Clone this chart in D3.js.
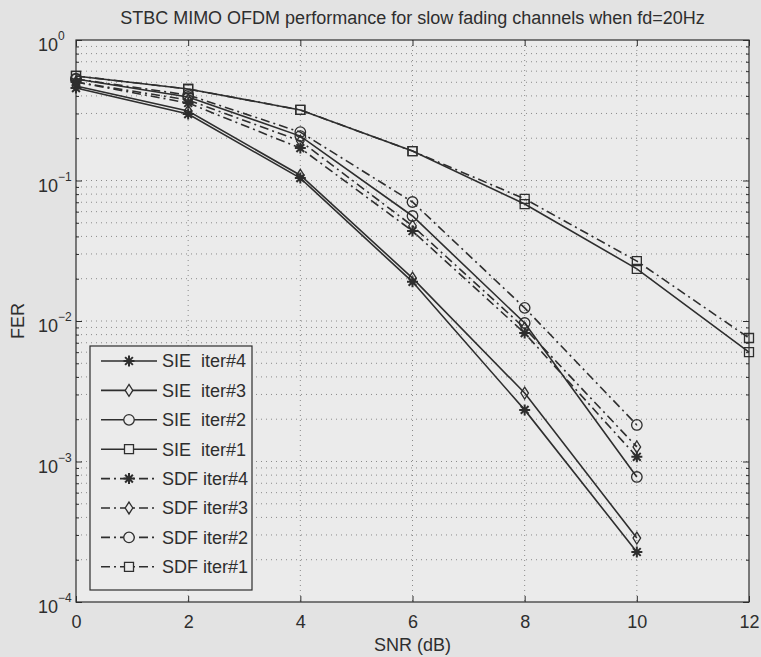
<!DOCTYPE html>
<html>
<head>
<meta charset="utf-8" />
<title>STBC MIMO OFDM FER</title>
<script src="https://d3js.org/d3.v7.min.js"></script>
<style>
  body { margin: 0; background: #e3e3e3; }
  svg { display: block; font-family: "Liberation Sans", Arial, sans-serif; }
</style>
</head>
<body>
<svg width="761" height="657"></svg>
<script>
// SNR points (dB)
const snr = [0, 2, 4, 6, 8, 10];
const snrIter1 = [0, 2, 4, 6, 8, 10, 12];

// FER values
const sieIter4 = [0.455, 0.297, 0.104, 0.0190, 0.00233, 0.000227];
const sieIter3 = [0.471, 0.312, 0.109, 0.0202, 0.00307, 0.000285];
const sieIter2 = [0.528, 0.393, 0.207, 0.0559, 0.00968, 0.000776];
const sieIter1 = [0.555, 0.448, 0.318, 0.162, 0.068, 0.0235, 0.0060];
const sdfIter4 = [0.502, 0.356, 0.170, 0.0437, 0.0082, 0.00108];
const sdfIter3 = [0.502, 0.374, 0.191, 0.0475, 0.0089, 0.00127];
const sdfIter2 = [0.528, 0.406, 0.221, 0.0703, 0.0124, 0.00182];
const sdfIter1 = [0.555, 0.448, 0.318, 0.162, 0.074, 0.0267, 0.00757];

const legendNames = ['SIE  iter#4', 'SIE  iter#3', 'SIE  iter#2', 'SIE  iter#1',
                     'SDF iter#4', 'SDF iter#3', 'SDF iter#2', 'SDF iter#1'];
const xTicks = [0, 2, 4, 6, 8, 10, 12];
const yExponents = [0, -1, -2, -3, -4];

const titleText = 'STBC MIMO OFDM performance for slow fading channels when fd=20Hz';

const svg = d3.select('svg');
const width = +svg.attr('width');
const height = +svg.attr('height');

const ink = '#2e2e2e';
const margin = {top: 40, right: 12, bottom: 55, left: 76};
const innerwidth = width - margin.left - margin.right;
const innerheight = height - margin.top - margin.bottom;

// asterisk marker like matlab '*'
const asterisk = {
  draw(ctx, size) {
    const r = Math.sqrt(size) / 2;
    const d = r * Math.SQRT1_2;
    ctx.moveTo(-r, 0); ctx.lineTo(r, 0);
    ctx.moveTo(0, -r); ctx.lineTo(0, r);
    ctx.moveTo(-d, -d); ctx.lineTo(d, d);
    ctx.moveTo(-d, d); ctx.lineTo(d, -d);
  }
};
const diamond = {
  draw(ctx, size) {
    const r = Math.sqrt(size) / 2;
    ctx.moveTo(0, -r * 1.25); ctx.lineTo(r * 0.8, 0);
    ctx.lineTo(0, r * 1.25); ctx.lineTo(-r * 0.8, 0); ctx.closePath();
  }
};
const circle = {
  draw(ctx, size) {
    const r = Math.sqrt(size) / 2;
    ctx.moveTo(r, 0); ctx.arc(0, 0, r, 0, 2 * Math.PI);
  }
};
const square = {
  draw(ctx, size) {
    const r = Math.sqrt(size) / 2;
    ctx.rect(-r, -r, 2 * r, 2 * r);
  }
};

const series = [
  {name: legendNames[0], x: snr, y: sieIter4, marker: asterisk, size: 121, dash: null},
  {name: legendNames[1], x: snr, y: sieIter3, marker: diamond, size: 90, dash: null},
  {name: legendNames[2], x: snr, y: sieIter2, marker: circle, size: 110, dash: null},
  {name: legendNames[3], x: snrIter1, y: sieIter1, marker: square, size: 81, dash: null},
  {name: legendNames[4], x: snr, y: sdfIter4, marker: asterisk, size: 121, dash: '9,4,2,4'},
  {name: legendNames[5], x: snr, y: sdfIter3, marker: diamond, size: 90, dash: '9,4,2,4'},
  {name: legendNames[6], x: snr, y: sdfIter2, marker: circle, size: 110, dash: '9,4,2,4'},
  {name: legendNames[7], x: snrIter1, y: sdfIter1, marker: square, size: 81, dash: '9,4,2,4'}
];

const xscale = d3.scaleLinear().domain([0, 12]).range([0, innerwidth]);
const yscale = d3.scaleLog().domain([1e-4, 1]).range([innerheight, 0]);

const g = svg.append('g')
  .attr('transform', 'translate(' + margin.left + ',' + margin.top + ')');

g.append('rect')
  .attr('width', innerwidth).attr('height', innerheight)
  .attr('fill', '#ebebeb');

// grid
const minorY = [];
yExponents.slice(0, -1).forEach(e => {
  for (let m = 1; m <= 9; m++) minorY.push(m * Math.pow(10, e - 1));
});
g.append('g').selectAll('line').data(minorY.filter(v => v > 1e-4)).enter().append('line')
  .attr('x1', 0).attr('x2', innerwidth)
  .attr('y1', d => yscale(d)).attr('y2', d => yscale(d))
  .attr('stroke', '#8a8a8a').attr('stroke-width', 1).attr('stroke-dasharray', '1,4');
g.append('g').selectAll('line').data(xTicks.slice(1, -1)).enter().append('line')
  .attr('x1', d => xscale(d)).attr('x2', d => xscale(d))
  .attr('y1', 0).attr('y2', innerheight)
  .attr('stroke', '#8a8a8a').attr('stroke-width', 1).attr('stroke-dasharray', '1,4');

// axes with inward ticks
const xaxisG = g.append('g')
  .attr('transform', 'translate(0,' + innerheight + ')')
  .call(d3.axisBottom(xscale).tickValues(xTicks).tickSize(-6).tickPadding(13).tickFormat(d3.format('d')));
const xaxisTop = g.append('g')
  .call(d3.axisTop(xscale).tickValues(xTicks).tickSize(-6).tickFormat(''));
const yaxisG = g.append('g')
  .call(d3.axisLeft(yscale).tickValues(yExponents.map(e => Math.pow(10, e))).tickSize(-6).tickFormat(''));
const yaxisRight = g.append('g')
  .attr('transform', 'translate(' + innerwidth + ',0)')
  .call(d3.axisRight(yscale).tickValues(yExponents.map(e => Math.pow(10, e))).tickSize(-6).tickFormat(''));
const minorTicks = minorY.filter(v => v > 1e-4 && Math.abs(Math.log10(v) % 1) > 1e-9);
g.append('g').call(d3.axisLeft(yscale).tickValues(minorTicks).tickSize(-3).tickFormat(''));
g.append('g').attr('transform', 'translate(' + innerwidth + ',0)')
  .call(d3.axisRight(yscale).tickValues(minorTicks).tickSize(-3).tickFormat(''));

g.selectAll('.tick line').attr('stroke', ink);
g.selectAll('.domain').remove();
xaxisG.selectAll('text').attr('font-size', 18).attr('fill', ink)
  .attr('font-family', '"Liberation Sans", Arial, sans-serif');

// y tick labels 10^n
const ylab = g.append('g').selectAll('text').data(yExponents).enter().append('text')
  .attr('x', -38).attr('y', e => yscale(Math.pow(10, e)) + 11)
  .attr('font-size', 18).attr('fill', ink);
ylab.append('tspan').text('10');
ylab.append('tspan').attr('dy', -11).attr('font-size', 12).text(e => e === 0 ? '0' : '\u2212' + (-e));

// box
g.append('rect')
  .attr('width', innerwidth).attr('height', innerheight)
  .attr('fill', 'none').attr('stroke', ink).attr('stroke-width', 1.2);

// lines
const line = d3.line().x(d => xscale(d[0])).y(d => yscale(d[1]));
series.forEach(s => {
  const pts = s.x.map((x, i) => [x, s.y[i]]);
  g.append('path').datum(pts)
    .attr('d', line)
    .attr('fill', 'none').attr('stroke', ink).attr('stroke-width', 1.6)
    .attr('stroke-dasharray', s.dash);
  g.append('g').selectAll('path').data(pts).enter().append('path')
    .attr('transform', d => 'translate(' + xscale(d[0]) + ',' + yscale(d[1]) + ')')
    .attr('d', d3.symbol().type(s.marker).size(s.size))
    .attr('fill', 'none').attr('stroke', ink).attr('stroke-width', s.marker === asterisk ? 2 : 1.3);
});

// legend
const leg = g.append('g').attr('transform', 'translate(14,306)');
leg.append('rect').attr('width', 162).attr('height', 244)
  .attr('fill', '#ebebeb').attr('stroke', ink).attr('stroke-width', 1.2);
const rows = leg.selectAll('g.row').data(series).enter().append('g')
  .attr('class', 'row')
  .attr('transform', (d, i) => 'translate(0,' + (15 + i * 29.4) + ')');
rows.append('line')
  .attr('x1', 11).attr('x2', 67)
  .attr('stroke', ink).attr('stroke-width', 1.6)
  .attr('stroke-dasharray', d => d.dash);
rows.append('path')
  .attr('transform', 'translate(39,0)')
  .attr('d', d => d3.symbol().type(d.marker).size(d.size)())
  .attr('fill', '#ebebeb').attr('stroke', ink).attr('stroke-width', d => d.marker === asterisk ? 2 : 1.3);
rows.append('text')
  .attr('x', 72).attr('dy', '0.35em')
  .attr('font-size', 18).attr('fill', ink)
  .style('white-space', 'pre')
  .text(d => d.name);

// title and axis labels
svg.append('text')
  .attr('x', margin.left + innerwidth / 2).attr('y', 24)
  .attr('text-anchor', 'middle').attr('font-size', 18).attr('fill', ink)
  .text(titleText);
svg.append('text')
  .attr('x', margin.left + innerwidth / 2).attr('y', 651)
  .attr('text-anchor', 'middle').attr('font-size', 18).attr('fill', ink)
  .text('SNR (dB)');
svg.append('text')
  .attr('transform', 'translate(24,' + (margin.top + innerheight / 2) + ') rotate(-90)')
  .attr('text-anchor', 'middle').attr('font-size', 18).attr('fill', ink)
  .text('FER');
</script>
</body>
</html>
